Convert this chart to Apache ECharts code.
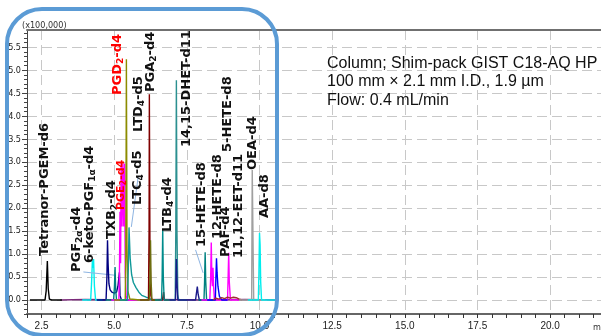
<!DOCTYPE html>
<html>
<head>
<meta charset="utf-8">
<script src="https://cdn.jsdelivr.net/npm/echarts@6/dist/echarts.min.js"></script>
<style>
  html, body { margin: 0; padding: 0; background: #fff; }
  #chart { width: 601px; height: 336px; }
</style>
</head>
<body>
<div id="chart"></div>
<script>
// tick labels
const xTickLabels = [2.5, 5.0, 7.5, 10.0, 12.5, 15.0, 17.5, 20.0];
const yTickLabels = [0.0, 0.5, 1.0, 1.5, 2.0, 2.5, 3.0, 3.5, 4.0, 4.5, 5.0, 5.5];

// traces: [retention time (min), intensity (x100,000)]
const baselineMix = [[3.15, 0], [4.0, 0.01], [5.6, 0], [6.6, 0.01], [8.0, 0], [9.5, 0.01], [10.65, 0]];
const tetranorPGEM = [[2.10, 0], [2.62, 0], [2.66, 0.2], [2.70, 0.85], [2.73, 0.25], [2.77, 0.02], [2.85, 0], [3.20, 0]];
const ketoPGF1a = [[3.90, 0], [4.19, 0], [4.22, 0.35], [4.25, 0.86], [4.27, 0.7], [4.29, 0.89], [4.32, 0.3], [4.36, 0], [4.60, 0]];
const txb2 = [[4.40, 0], [4.72, 0], [4.75, 0.5], [4.77, 1.30], [4.79, 0.8], [4.82, 0.35], [4.86, 0.22], [4.92, 0.17], [5.00, 0.15], [5.08, 0.17], [5.13, 0.3], [5.18, 0.6], [5.20, 0.1], [5.25, 0], [5.50, 0]];
const pgf2a = [[4.70, 0], [4.98, 0], [5.01, 0.3], [5.03, 0.72], [5.05, 0.25], [5.08, 0], [5.30, 0]];
const pge2 = [[4.90, 0], [5.16, 0], [5.18, 0.5], [5.20, 1.92], [5.22, 0.8], [5.24, 2.97], [5.27, 1.6], [5.30, 2.97], [5.33, 1.6], [5.36, 2.97], [5.38, 0.6], [5.41, 0.1], [5.45, 0], [5.80, 0]];
const pgd2 = [[5.00, 0], [5.38, 0], [5.40, 1.0], [5.42, 5.24], [5.44, 1.2], [5.47, 0.2], [5.50, 0.18], [5.54, 0.02], [5.90, 0]];
const ltc4 = [[5.20, 0], [5.46, 0], [5.49, 0.8], [5.51, 1.58], [5.55, 0.9], [5.60, 0.55], [5.66, 0.38], [5.75, 0.27], [5.85, 0.17], [5.95, 0.1], [6.10, 0.06], [6.20, 0.04], [6.30, 0]];
const pga2 = [[5.90, 0], [6.18, 0], [6.20, 1.5], [6.21, 4.48], [6.23, 1.2], [6.26, 0.1], [6.30, 0], [6.66, 0], [6.70, 0.17], [6.73, 0], [6.90, 0]];
const ltd4 = [[5.90, 0], [6.21, 0], [6.23, 0.5], [6.25, 1.30], [6.27, 0.4], [6.30, 0], [6.50, 0]];
const ltb4 = [[6.40, 0], [6.63, 0], [6.65, 0.5], [6.67, 1.54], [6.69, 0.5], [6.72, 0], [6.90, 0]];
const dhet1415 = [[6.90, 0], [7.10, 0], [7.12, 1.5], [7.14, 4.78], [7.16, 1.5], [7.19, 0.1], [7.22, 0], [7.50, 0]];
const minorNavy = [[6.90, 0], [7.11, 0], [7.13, 0.5], [7.14, 0.89], [7.16, 0.4], [7.19, 0], [7.80, 0], [7.83, 0.15], [7.86, 0.29], [7.89, 0.12], [7.93, 0], [8.20, 0]];
const hete15 = [[7.90, 0], [8.09, 0], [8.11, 0.4], [8.13, 1.04], [8.15, 0.4], [8.18, 0], [8.40, 0]];
const hete12 = [[8.00, 0], [8.29, 0], [8.32, 0.5], [8.34, 1.25], [8.36, 0.5], [8.38, 0.3], [8.40, 0.70], [8.42, 0.3], [8.45, 0], [8.80, 0], [8.90, 0], [8.92, 0.5], [8.94, 1.03], [8.96, 0.4], [9.00, 0], [9.30, 0]];
const paf = [[8.20, 0], [8.48, 0], [8.50, 0.5], [8.52, 0.91], [8.54, 0.6], [8.57, 0.3], [8.62, 0.08], [8.70, 0], [8.90, 0]];
const noiseBrown = [[8.40, 0], [8.50, 0.04], [8.60, 0.02], [8.70, 0.05], [8.80, 0.03], [8.90, 0.06], [9.00, 0.04], [9.10, 0.06], [9.20, 0.05], [9.30, 0.02], [9.40, 0]];
const oea = [[9.30, 0], [9.73, 0], [9.75, 2.83], [9.77, 2.83], [9.80, 0], [10.20, 0]];
const aa = [[9.60, 0], [9.96, 0], [9.98, 0.6], [10.00, 1.46], [10.02, 1.2], [10.04, 0.4], [10.07, 0], [10.60, 0]];

// leader lines from labels to peaks
const leaders = [
  [[3.94, 0.61], [5.01, 0.54]],
  [[5.83, 2.70], [5.59, 1.59]],
  [[7.80, 1.09], [8.06, 0.59]]
];

const traces = [
  { name: 'baseline', data: baselineMix, color: '#7a2a7a' },
  { name: 'Tetranor-PGEM-d6', data: tetranorPGEM, color: '#000000' },
  { name: '6-keto-PGF1a-d4', data: ketoPGF1a, color: '#00eeee' },
  { name: 'TXB2-d4', data: txb2, color: '#000080' },
  { name: 'PGF2a-d4', data: pgf2a, color: '#008080' },
  { name: 'PGE2-d4', data: pge2, color: '#ff00ff' },
  { name: 'PGD2-d4', data: pgd2, color: '#8c8c00' },
  { name: 'LTC4-d5', data: ltc4, color: '#109898' },
  { name: 'PGA2-d4', data: pga2, color: '#800000' },
  { name: 'LTD4-d5', data: ltd4, color: '#6e6e10' },
  { name: 'LTB4-d4', data: ltb4, color: '#008b8b' },
  { name: '14,15-DHET-d11', data: dhet1415, color: '#2b9090' },
  { name: 'navy', data: minorNavy, color: '#1a1a8a' },
  { name: '15-HETE-d8', data: hete15, color: '#008080' },
  { name: '12-HETE-d8', data: hete12, color: '#ff00ff' },
  { name: 'PAF-d4', data: paf, color: '#0000ff' },
  { name: 'noise', data: noiseBrown, color: '#a03030' },
  { name: 'OEA-d4', data: oea, color: '#a0a0a0' },
  { name: 'AA-d8', data: aa, color: '#00eeee' }
];

// rotated peak labels: rich text, x, y (bottom of text)
const labelLayout = [
  ['{m|Tetranor-PGEM-d6}', 45, 256],
  ['{m|PGF}{s|2α}{m|-d4}', 77, 272],
  ['{m|6-keto-PGF}{s|1α}{m|-d4}', 90, 263],
  ['{m|TXB}{s|2}{m|-d4}', 112, 239],
  ['{r|PGE}{rs|2}{r|-d4}', 121, 210],
  ['{m|LTC}{s|4}{m|-d5}', 138, 205],
  ['{R|PGD}{Rs|2}{R|-d4}', 118, 95],
  ['{m|LTD}{s|4}{m|-d5}', 139, 132],
  ['{m|PGA}{s|2}{m|-d4}', 151, 92],
  ['{m|LTB}{s|4}{m|-d4}', 168, 232],
  ['{m|14,15-DHET-d11}', 187, 147],
  ['{m|15-HETE-d8}', 202, 247],
  ['{m|12-HETE-d8}', 218, 239],
  ['{m|PAF-d4}', 226, 257],
  ['{m|5-HETE-d8}', 228, 152],
  ['{m|11,12-EET-d11}', 239, 258],
  ['{m|OEA-d4}', 253, 170],
  ['{m|AA-d8}', 265, 218]
];

const labelFont = 'DejaVu Sans';
const rich = {
  m: { fontFamily: labelFont, fontWeight: 'bold', fontSize: 13, fill: '#111', lineHeight: 15 },
  s: { fontFamily: labelFont, fontWeight: 'bold', fontSize: 9, fill: '#111', lineHeight: 9, verticalAlign: 'bottom' },
  R: { fontFamily: labelFont, fontWeight: 'bold', fontSize: 13, fill: '#ff0000', lineHeight: 15 },
  Rs: { fontFamily: labelFont, fontWeight: 'bold', fontSize: 9, fill: '#ff0000', lineHeight: 9, verticalAlign: 'bottom' },
  r: { fontFamily: labelFont, fontWeight: 'bold', fontSize: 11, fill: '#ff0000', lineHeight: 13 },
  rs: { fontFamily: labelFont, fontWeight: 'bold', fontSize: 8, fill: '#ff0000', lineHeight: 8, verticalAlign: 'bottom' }
};

const X_MIN = 2.0, X_MAX = 21.75, Y_MIN = -0.305, Y_MAX = 5.876;
const yMinor = [];
for (let i = -3; i <= 58; i++) yMinor.push(+(i / 10).toFixed(1));

const narrow = "'Liberation Sans Narrow', 'Arial Narrow', 'DejaVu Sans Condensed', sans-serif";
const gridRect = { left: 27, right: 0, top: 30, bottom: 22 };

const chart = echarts.init(document.getElementById('chart'));

const series = traces.map((t, i) => ({
  name: t.name,
  type: 'line',
  xAxisIndex: 0,
  yAxisIndex: 0,
  data: t.data,
  showSymbol: false,
  symbol: 'none',
  z: 2 + i,
  lineStyle: { width: 1.4, color: t.color },
  itemStyle: { color: t.color },
  silent: true
}));

series[0].markLine = {
  silent: true,
  symbol: ['none', 'none'],
  label: { show: false },
  lineStyle: { color: '#8db4e2', type: 'solid', width: 1 },
  data: leaders.map(l => [{ coord: l[0] }, { coord: l[1] }])
};

series.push({ type: 'line', xAxisIndex: 2, yAxisIndex: 1, data: [], showSymbol: false });

chart.setOption({
  animation: false,
  backgroundColor: '#fff',
  grid: [
    Object.assign({}, gridRect),
    Object.assign({}, gridRect)
  ],
  xAxis: [
    {
      type: 'value', gridIndex: 0, position: 'bottom', min: X_MIN, max: X_MAX,
      axisLine: { show: true, onZero: false, lineStyle: { color: '#666', width: 2 } },
      axisTick: { show: false, customValues: xTickLabels },
      axisLabel: { customValues: xTickLabels, formatter: v => v.toFixed(1), margin: 7, fontSize: 10, fontFamily: 'Liberation Sans, Arial, sans-serif', color: '#222' },
      splitLine: { show: true, lineStyle: { type: [10, 5], color: '#c8c8c8', width: 1 } }
    },
    {
      type: 'value', gridIndex: 0, position: 'top', min: X_MIN, max: X_MAX,
      axisLine: { show: true, onZero: false, lineStyle: { color: '#707070', width: 2 } },
      axisTick: { show: false }, axisLabel: { show: false }, splitLine: { show: false }
    },
    {
      type: 'value', gridIndex: 1, position: 'bottom', min: X_MIN, max: X_MAX, interval: 0.5,
      axisLine: { show: false, onZero: false },
      axisTick: { show: true, length: 4, lineStyle: { color: '#333' } },
      axisLabel: { show: false }, splitLine: { show: false }
    }
  ],
  yAxis: [
    {
      type: 'value', gridIndex: 0, position: 'left', min: Y_MIN, max: Y_MAX,
      axisLine: { show: true, onZero: false, lineStyle: { color: '#444', width: 1 } },
      axisTick: { show: true, length: 5, customValues: yTickLabels, lineStyle: { color: '#444' } },
      axisLabel: { customValues: yTickLabels, formatter: v => v.toFixed(1), margin: 6, fontSize: 9, fontFamily: narrow, color: '#222' },
      splitLine: { show: true, lineStyle: { type: [10, 5], color: '#c8c8c8', width: 1 } }
    },
    {
      type: 'value', gridIndex: 1, position: 'left', min: Y_MIN, max: Y_MAX,
      axisLine: { show: false, onZero: false },
      axisTick: { show: true, length: 3, customValues: yMinor, lineStyle: { color: '#444' } },
      axisLabel: { show: false }, splitLine: { show: false }
    }
  ],
  series: series,
  graphic: [
    {
      type: 'text', x: 22, y: 26, z: 50,
      style: { text: '(x100,000)', font: '9px ' + narrow, fill: '#333', align: 'left', verticalAlign: 'middle' }
    },
    {
      type: 'text', x: 593, y: 328, z: 50,
      style: { text: 'min', font: '9px ' + narrow, fill: '#333', align: 'left', verticalAlign: 'middle' }
    },
    {
      type: 'text', x: 327, y: 54, z: 50,
      style: {
        text: 'Column; Shim-pack GIST C18-AQ HP\n100 mm × 2.1 mm I.D., 1.9 µm\nFlow: 0.4 mL/min',
        font: '16px "Liberation Sans", Arial, sans-serif', lineHeight: 18.5,
        fill: '#111', align: 'left', verticalAlign: 'top'
      }
    }
  ].concat(labelLayout.map(l => ({
    type: 'text', x: l[1], y: l[2], rotation: Math.PI / 2, z: 60,
    style: { text: l[0], rich: rich, align: 'left', verticalAlign: 'middle', fill: '#111' }
  }))).concat([
    {
      type: 'rect', z: 100,
      shape: { x: 7, y: 9, width: 270, height: 326, r: 35 },
      style: { fill: 'none', stroke: '#5b9bd5', lineWidth: 4 }
    }
  ])
});
</script>
</body>
</html>
